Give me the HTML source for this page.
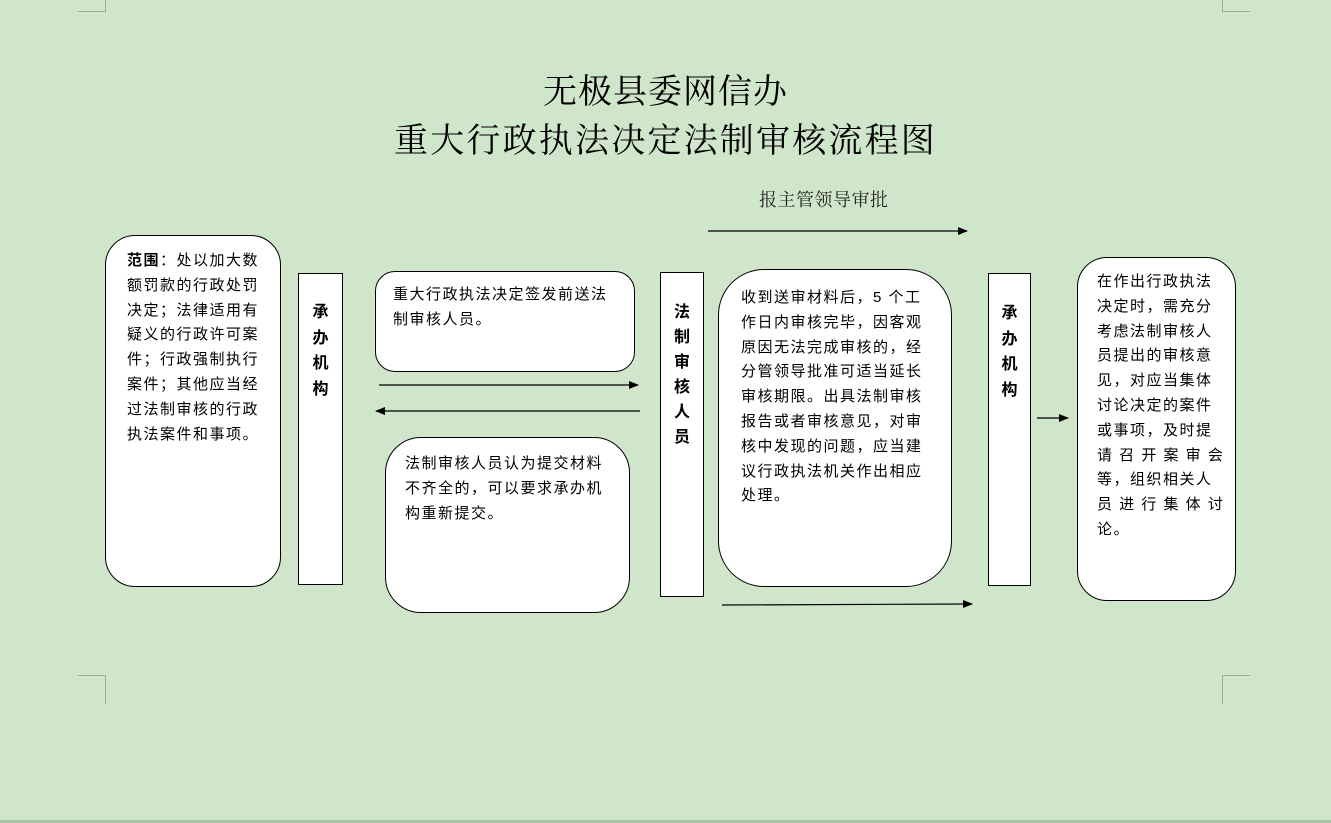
<!DOCTYPE html>
<html><head><meta charset="utf-8"><style>
html,body{margin:0;padding:0}
body{width:1331px;height:823px;background:#cfe6ca;position:relative;overflow:hidden;font-family:"Liberation Serif","Noto Serif CJK SC","Noto Sans CJK SC",serif}
.a{position:absolute}
.box{position:absolute;background:#fff;border:1.5px solid #000;box-sizing:border-box}
.t{position:absolute;font-size:15px;line-height:24.8px;letter-spacing:1.5px;color:#000;font-family:"Liberation Sans","Noto Sans CJK SC",sans-serif;white-space:nowrap}
.v{position:absolute;font-size:16px;font-weight:bold;line-height:25.5px;text-align:center;font-family:"Liberation Sans","Noto Sans CJK SC",sans-serif}
.title{position:absolute;left:0;width:1331px;text-align:center;font-size:34px;color:#000}
</style></head><body>
<div class="a" style="left:105px;top:0;width:1px;height:12px;background:#9aae97"></div>
<div class="a" style="left:78px;top:11px;width:28px;height:1px;background:#9aae97"></div>
<div class="a" style="left:1222px;top:0;width:1px;height:12px;background:#9aae97"></div>
<div class="a" style="left:1222px;top:11px;width:28px;height:1px;background:#9aae97"></div>
<div class="a" style="left:78px;top:675px;width:28px;height:1px;background:#9aae97"></div>
<div class="a" style="left:105px;top:675px;width:1px;height:29px;background:#9aae97"></div>
<div class="a" style="left:1222px;top:675px;width:28px;height:1px;background:#9aae97"></div>
<div class="a" style="left:1222px;top:675px;width:1px;height:29px;background:#9aae97"></div>
<div class="a" style="left:0;top:820px;width:1331px;height:3px;background:#a9c4a6"></div>

<div class="title" style="top:64px;letter-spacing:1px">无极县委网信办</div>
<div class="title" style="top:113px;letter-spacing:2.2px">重大行政执法决定法制审核流程图</div>
<div class="a" style="left:759px;top:186px;font-size:18px;letter-spacing:0.5px;color:#222">报主管领导审批</div>

<div class="box" style="left:105px;top:235px;width:176px;height:352px;border-radius:30px"></div>
<div class="t" style="left:127px;top:249px"><b>范围</b>：处以加大数<br>额罚款的行政处罚<br>决定；法律适用有<br>疑义的行政许可案<br>件；行政强制执行<br>案件；其他应当经<br>过法制审核的行政<br>执法案件和事项。</div>

<div class="box" style="left:298px;top:273px;width:45px;height:312px;border-radius:0"></div>
<div class="v" style="left:298px;top:300px;width:45px">承<br>办<br>机<br>构</div>

<div class="box" style="left:375px;top:271px;width:260px;height:101px;border-radius:20px"></div>
<div class="t" style="left:393px;top:283px">重大行政执法决定签发前送法<br>制审核人员。</div>

<div class="box" style="left:385px;top:437px;width:245px;height:176px;border-radius:36px"></div>
<div class="t" style="left:405px;top:452px">法制审核人员认为提交材料<br>不齐全的，可以要求承办机<br>构重新提交。</div>

<div class="box" style="left:660px;top:272px;width:44px;height:325px;border-radius:0"></div>
<div class="v" style="left:660px;top:300px;width:44px;line-height:25px">法<br>制<br>审<br>核<br>人<br>员</div>

<div class="box" style="left:718px;top:269px;width:234px;height:318px;border-radius:46px"></div>
<div class="t" style="left:741px;top:286px">收到送审材料后，5 个工<br>作日内审核完毕，因客观<br>原因无法完成审核的，经<br>分管领导批准可适当延长<br>审核期限。出具法制审核<br>报告或者审核意见，对审<br>核中发现的问题，应当建<br>议行政执法机关作出相应<br>处理。</div>

<div class="box" style="left:988px;top:273px;width:43px;height:313px;border-radius:0"></div>
<div class="v" style="left:988px;top:301px;width:43px">承<br>办<br>机<br>构</div>

<div class="box" style="left:1077px;top:257px;width:159px;height:344px;border-radius:30px"></div>
<div class="t" style="left:1097px;top:270px">在作出行政执法<br>决定时，需充分<br>考虑法制审核人<br>员提出的审核意<br>见，对应当集体<br>讨论决定的案件<br>或事项，及时提<br>请 召 开 案 审 会<br>等，组织相关人<br>员 进 行 集 体 讨<br>论。</div>

<svg class="a" style="left:0;top:0" width="1331" height="823">
<defs><marker id="ar" markerWidth="10" markerHeight="8" refX="9" refY="4" orient="auto" markerUnits="userSpaceOnUse"><path d="M0,0 L10,4 L0,8 z" fill="#000"/></marker></defs>
<g stroke="#000" stroke-width="1.2" fill="none">
<line x1="708" y1="231" x2="967" y2="231" marker-end="url(#ar)"/>
<line x1="379" y1="385" x2="638" y2="385" marker-end="url(#ar)"/>
<line x1="640" y1="411" x2="376" y2="411" marker-end="url(#ar)"/>
<line x1="722" y1="605" x2="972" y2="604" marker-end="url(#ar)"/>
<line x1="1037" y1="418" x2="1068" y2="418" marker-end="url(#ar)"/>
</g></svg>
</body></html>
